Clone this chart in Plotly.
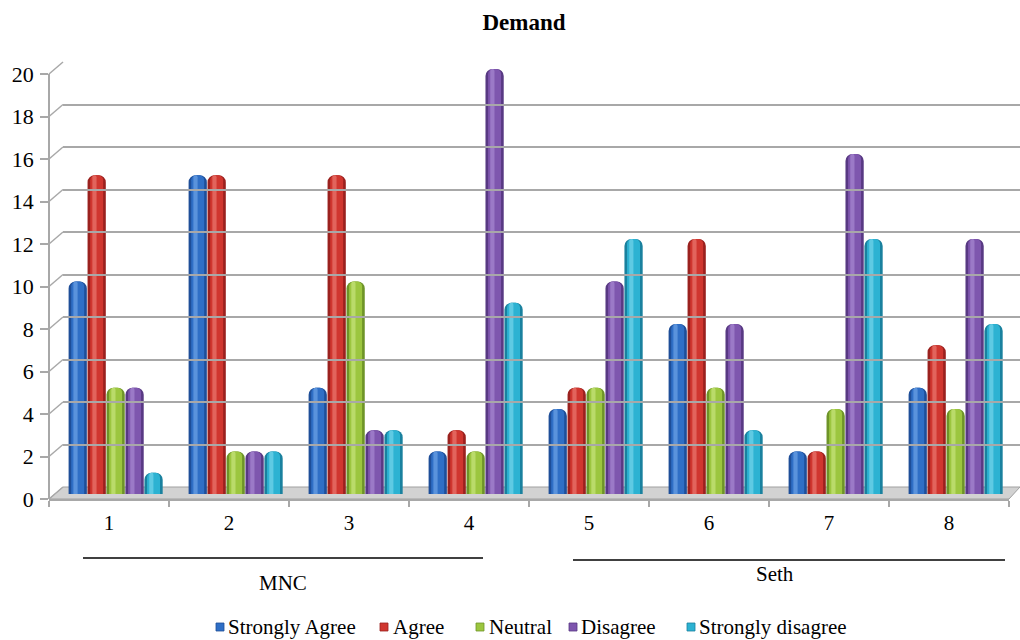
import plotly.graph_objects as go

# ---- data ----
categories = ["1", "2", "3", "4", "5", "6", "7", "8"]
series_names = ["Strongly Agree", "Agree", "Neutral", "Disagree", "Strongly disagree"]
strongly_agree = [10, 15, 5, 2, 4, 8, 2, 5]
agree = [15, 15, 15, 3, 5, 12, 2, 7]
neutral = [5, 2, 10, 2, 5, 5, 4, 4]
disagree = [5, 2, 3, 20, 10, 8, 16, 12]
strongly_disagree = [1, 2, 3, 9, 12, 3, 12, 8]
y_ticks = list(range(0, 21, 2))
groups = ["MNC", "Seth"]
title_text = "Demand"

series_values = [strongly_agree, agree, neutral, disagree, strongly_disagree]

# ---- styling ----
W, H = 1020, 640
FONT = "Liberation Serif, Times New Roman, serif"
GRID = "#A8A8A8"
# (main, shadow, highlight) per series, for a cylinder-like look
palette = [
    ("#2F6FC6", "#1E4E98", "#6A9FE3"),
    ("#D0362F", "#9A211E", "#E8746C"),
    ("#9CC63F", "#6E9428", "#C4E27A"),
    ("#7E56AE", "#583983", "#A585CF"),
    ("#2CB2D2", "#1A819E", "#6FD2E8"),
]


def px(x):
    return x / W


def py(y):
    return 1 - y / H


# pixel geometry of the three depth planes (front axis, bar plane, back wall)
front_x = (49, 1009)
bar_x = (56, 1016)
back_x = (63, 1020)
front_y = (499, 74)   # value 0 -> 499, value 20 -> 74
bar_y = (494, 69)
back_y = (487, 62)

x_pos = list(range(len(categories)))
slot = 0.158
bar_w = 0.152
first = -2.5 * slot

fig = go.Figure()

for i, (name, vals) in enumerate(zip(series_names, series_values)):
    main, dark, light = palette[i]
    left = first + i * slot
    # outer body (shaded edges)
    fig.add_trace(go.Bar(
        x=x_pos, y=vals, name=name, offset=left, width=bar_w,
        marker=dict(color=dark, line=dict(width=0), cornerradius=7),
        showlegend=False, xaxis="x", yaxis="y",
    ))
    # main body
    fig.add_trace(go.Bar(
        x=x_pos, y=vals, name=name, offset=left + 0.022, width=bar_w - 0.044,
        marker=dict(color=main, line=dict(width=0), cornerradius=5),
        showlegend=False, xaxis="x", yaxis="y", hoverinfo="skip",
    ))
    # specular highlight
    fig.add_trace(go.Bar(
        x=x_pos, y=vals, name=name, offset=left + 0.04, width=0.035,
        marker=dict(color=light, line=dict(width=0), opacity=0.75, cornerradius=2),
        showlegend=False, xaxis="x", yaxis="y", hoverinfo="skip",
    ))

shapes = []

# floor of the 3D box
shapes.append(dict(
    type="path", xref="paper", yref="paper", layer="below",
    path=(f"M {px(front_x[0])},{py(front_y[0])} L {px(front_x[1])},{py(front_y[0])} "
          f"L {px(back_x[1])},{py(back_y[0])} L {px(back_x[0])},{py(back_y[0])} Z"),
    fillcolor="#D2D2D2", line=dict(color="#A0A0A0", width=1),
))

# side wall: diagonal links from front tick to back gridline
for v in y_ticks:
    f = front_y[0] + (front_y[1] - front_y[0]) * v / 20
    b = back_y[0] + (back_y[1] - back_y[0]) * v / 20
    shapes.append(dict(
        type="line", xref="paper", yref="paper", layer="below",
        x0=px(front_x[0]), y0=py(f), x1=px(back_x[0]), y1=py(b),
        line=dict(color=GRID, width=1.5),
    ))

# group brackets under the category axis
shapes.append(dict(type="line", xref="paper", yref="paper",
                   x0=px(83), x1=px(483), y0=py(558), y1=py(558),
                   line=dict(color="black", width=1.5)))
shapes.append(dict(type="line", xref="paper", yref="paper",
                   x0=px(573), x1=px(1005), y0=py(560), y1=py(560),
                   line=dict(color="black", width=1.5)))

annotations = [
    dict(text=groups[0], x=px(283), y=py(583), xref="paper", yref="paper",
         xanchor="center", yanchor="middle", showarrow=False,
         font=dict(family=FONT, size=21, color="black")),
    dict(text=groups[1], x=px(775), y=py(574), xref="paper", yref="paper",
         xanchor="center", yanchor="middle", showarrow=False,
         font=dict(family=FONT, size=21, color="black")),
]

# legend: small swatches followed by names
legend_sq_x = [216, 380, 476, 569, 687]
legend_txt_x = [226, 391, 487, 579, 697]
legend_y = 627
for i, name in enumerate(series_names):
    main, dark, light = palette[i]
    shapes.append(dict(type="rect", xref="paper", yref="paper",
                       x0=px(legend_sq_x[i]), x1=px(legend_sq_x[i] + 8),
                       y0=py(legend_y + 4), y1=py(legend_y - 4),
                       fillcolor=main, line=dict(color=dark, width=0.8)))
    annotations.append(dict(text=name, x=px(legend_txt_x[i]), y=py(legend_y),
                            xref="paper", yref="paper", xanchor="left", yanchor="middle",
                            showarrow=False,
                            font=dict(family=FONT, size=21, color="black")))

fig.update_layout(
    template="none",
    width=W, height=H,
    margin=dict(l=0, r=0, t=0, b=0, pad=0),
    paper_bgcolor="white", plot_bgcolor="rgba(0,0,0,0)",
    barmode="overlay",
    showlegend=False,
    font=dict(family=FONT, color="black"),
    title=dict(text=f"<b>{title_text}</b>", x=px(524), y=py(22),
               xanchor="center", yanchor="middle",
               font=dict(family=FONT, size=23, color="black")),
    # bar plane
    xaxis=dict(domain=[px(bar_x[0]), px(bar_x[1])], range=[-0.5, 7.5],
               visible=False, fixedrange=True, automargin=False),
    yaxis=dict(domain=[py(bar_y[0]), py(bar_y[1])], range=[0, 20],
               visible=False, anchor="x", fixedrange=True, automargin=False),
    # back wall with gridlines
    xaxis2=dict(domain=[px(back_x[0]), px(back_x[1])], range=[0, 1],
                showgrid=False, showticklabels=False, zeroline=False,
                showline=False, ticks="", anchor="y2", automargin=False),
    yaxis2=dict(domain=[py(back_y[0]), py(back_y[1])], range=[0, 20],
                tickvals=y_ticks, showgrid=True, gridcolor=GRID, gridwidth=1.5,
                showticklabels=False, zeroline=False, showline=False, ticks="",
                anchor="x2", automargin=False),
    # front axes with labels
    xaxis3=dict(domain=[px(front_x[0]), px(front_x[1])], range=[-0.5, 7.5],
                tickvals=x_pos, ticktext=categories, ticks="", showgrid=False,
                zeroline=False, showline=True, linecolor=GRID, linewidth=1.5,
                tickfont=dict(family=FONT, size=21, color="black"),
                ticklabelstandoff=4, automargin=False,
                minor=dict(tickvals=[p - 0.5 for p in range(len(categories) + 1)],
                           ticks="outside", ticklen=6, tickcolor=GRID, tickwidth=1.5,
                           showgrid=False),
                anchor="y3"),
    yaxis3=dict(domain=[py(front_y[0]), py(front_y[1])], range=[0, 20],
                tickvals=y_ticks, ticks="outside", ticklen=8, tickcolor=GRID,
                tickwidth=1.5, showgrid=False, zeroline=False, showline=True,
                linecolor=GRID, linewidth=1.5, automargin=False,
                ticklabelstandoff=2,
                tickfont=dict(family=FONT, size=22, color="black"),
                anchor="free", position=px(front_x[0]), side="left"),
    shapes=shapes,
    annotations=annotations,
)

# invisible traces so the auxiliary axes are rendered
fig.add_trace(go.Scatter(x=[0.5], y=[0], xaxis="x2", yaxis="y2", mode="markers",
                         marker=dict(opacity=0), hoverinfo="skip", showlegend=False))
fig.add_trace(go.Scatter(x=[0], y=[0], xaxis="x3", yaxis="y3", mode="markers",
                         marker=dict(opacity=0), hoverinfo="skip", showlegend=False))

fig.write_html("out.html")
